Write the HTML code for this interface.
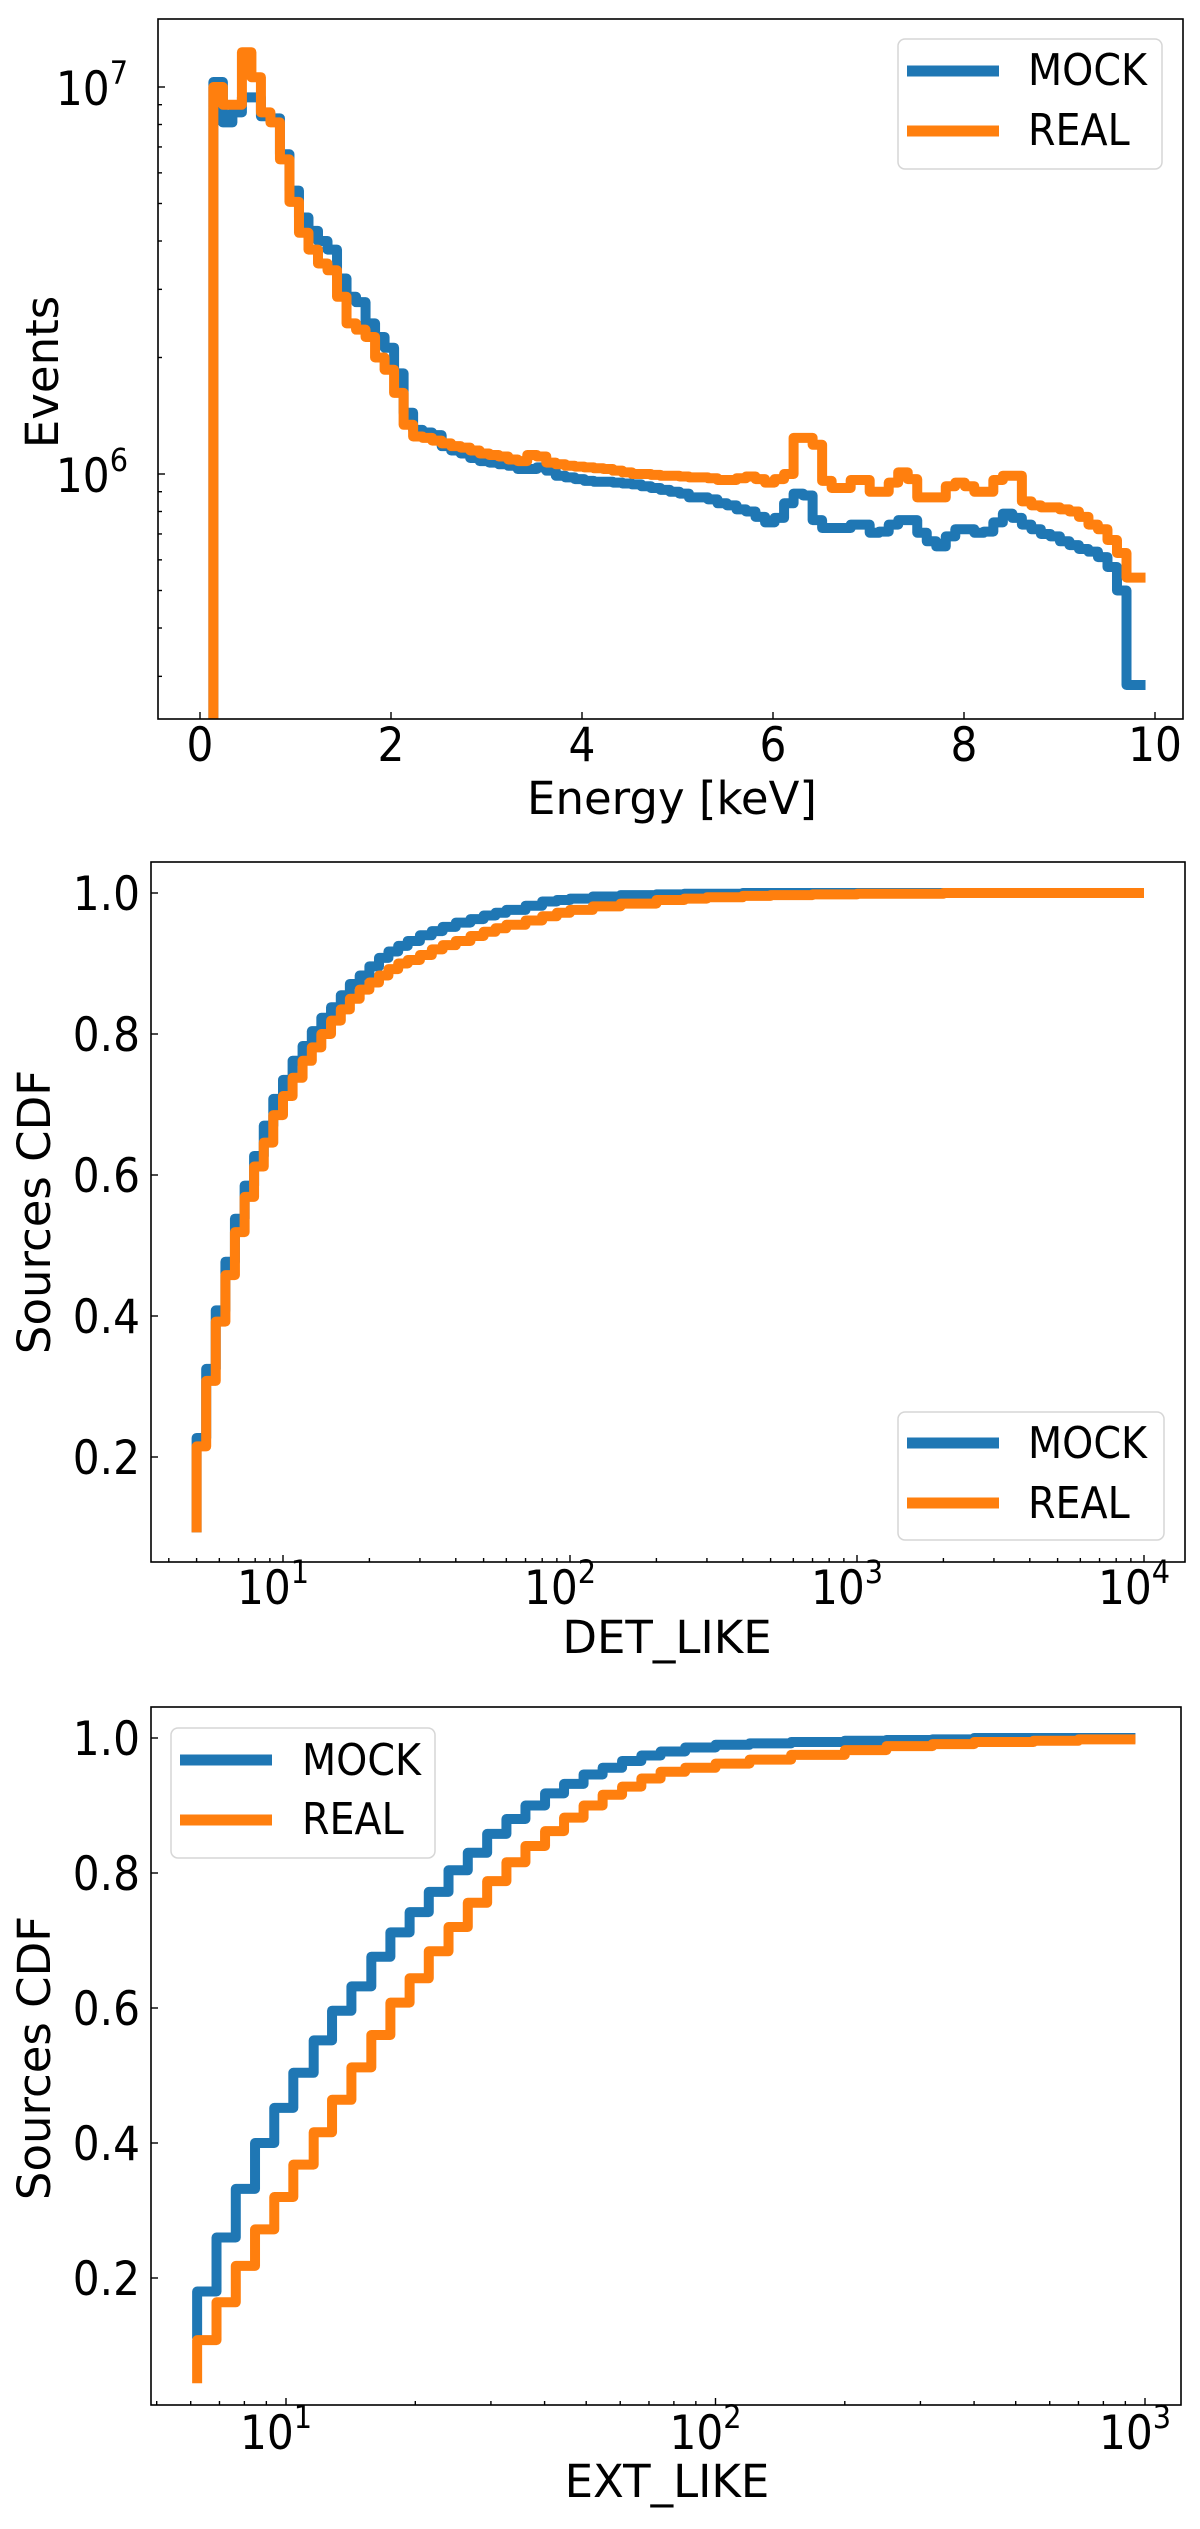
<!DOCTYPE html>
<html><head><meta charset="utf-8"><style>
html,body{margin:0;padding:0;background:#fff;}
svg{display:block;font-family:"DejaVu Sans","Liberation Sans",sans-serif;}
.tk{font-family:"DejaVu Sans Condensed","DejaVu Sans",sans-serif;font-size:47px;fill:#000;}
.sup{font-family:"DejaVu Sans Condensed","DejaVu Sans",sans-serif;font-size:32px;fill:#000;}
.lab{font-size:45px;fill:#000;}
.leg{font-family:"DejaVu Sans Condensed","DejaVu Sans",sans-serif;font-size:44px;fill:#000;}
</style></head><body>
<svg id="fig" width="1200" height="2529" viewBox="0 0 1200 2529" xmlns="http://www.w3.org/2000/svg"></svg>
<script>
// ---------- Panel 1 data: energy histogram (values in millions of events) ----------
const energyBinStart = 0.14;
const energyBinWidth = 0.0996;
const energyMock = [10.3,8.1,8.6,9.4,9.4,8.4,8.3,6.7,5.4,4.6,4.25,4.0,3.8,3.2,2.87,2.78,2.45,2.26,2.12,1.82,1.44,1.3,
 1.28,1.26,1.18,1.15,1.13,1.1,1.08,1.07,1.06,1.05,1.03,1.03,1.04,1.02,0.99,0.98,0.97,0.96,0.955,0.955,0.95,0.945,0.94,0.93,
 0.92,0.91,0.9,0.89,0.87,0.87,0.86,0.84,0.83,0.81,0.8,0.775,0.75,0.77,0.84,0.89,0.88,0.76,0.725,0.725,0.725,0.74,0.74,0.705,
 0.71,0.74,0.76,0.76,0.705,0.67,0.65,0.69,0.72,0.72,0.705,0.71,0.75,0.79,0.77,0.74,0.72,0.7,0.69,0.67,0.655,0.64,0.63,0.61,
 0.575,0.5,0.285,0.285];
const energyReal = [10.0,9.0,9.0,12.3,10.6,8.6,8.1,6.5,5.05,4.2,3.8,3.5,3.36,2.87,2.45,2.36,2.26,2.0,1.86,1.62,1.34,1.25,
 1.24,1.22,1.2,1.18,1.17,1.15,1.13,1.12,1.11,1.09,1.08,1.12,1.11,1.07,1.06,1.05,1.045,1.04,1.035,1.03,1.02,1.01,1.0,1.0,
 0.995,0.99,0.99,0.985,0.98,0.98,0.975,0.965,0.965,0.975,0.985,0.97,0.95,0.97,1.0,1.24,1.24,1.19,0.96,0.92,0.92,0.965,0.965,0.9,
 0.9,0.95,1.01,0.97,0.87,0.87,0.87,0.93,0.95,0.93,0.9,0.9,0.965,0.99,0.99,0.85,0.83,0.82,0.82,0.81,0.8,0.775,0.74,0.72,
 0.675,0.625,0.54,0.54];
const energyTicks = [0,2,4,6,8,10];

// ---------- Panel 2 data: DET_LIKE CDF ----------
const detEdges = [5.0,5.4,5.83,6.3,6.8,7.35,7.93,8.57,9.25,10.0,10.8,11.7,12.6,13.6,14.7,15.9,17.1,18.5,20.0,21.6,23.3,
 25.2,27.2,30,33,36,40,45,50,55,60,70,80,90,100,120,150,200,250,300,400,500,700,1000,2000,10000];
const detMock = [0.227,0.325,0.408,0.477,0.538,0.585,0.627,0.67,0.708,0.735,0.762,0.783,0.804,0.823,0.838,0.855,0.871,0.883,0.896,0.908,0.917,
 0.925,0.932,0.94,0.946,0.952,0.958,0.963,0.968,0.972,0.976,0.982,0.988,0.99,0.992,0.995,0.997,0.998,0.999,0.999,1.0,1.0,1.0,1.0,1.0];
const detReal = [0.215,0.308,0.392,0.458,0.519,0.569,0.612,0.646,0.685,0.712,0.738,0.762,0.781,0.8,0.819,0.835,0.85,0.863,0.873,0.883,0.892,
 0.9,0.905,0.912,0.92,0.926,0.932,0.939,0.945,0.95,0.955,0.961,0.967,0.972,0.976,0.981,0.985,0.99,0.992,0.994,0.996,0.997,0.998,0.999,1.0];
const detStart = [0.093,0.093];
const cdfTicks = [0.2,0.4,0.6,0.8,1.0];
const detDecades = [1,2,3,4];

// ---------- Panel 3 data: EXT_LIKE CDF ----------
const extEdges = [6.21,6.89,7.64,8.47,9.39,10.4,11.6,12.8,14.2,15.8,17.5,19.4,21.5,23.9,26.5,29.4,32.6,36.1,40.1,44.4,49.3,54.6,60.6,67.2,
 74.5,85,100,120,150,200,250,320,400,550,700,950];
const extMock = [0.18,0.26,0.332,0.4,0.452,0.504,0.552,0.596,0.632,0.676,0.712,0.742,0.772,0.804,0.83,0.858,0.88,0.9,0.918,0.932,0.946,0.956,0.966,0.974,
 0.98,0.986,0.99,0.992,0.994,0.996,0.997,0.998,1.0,1.0,1.0];
const extReal = [0.108,0.164,0.218,0.272,0.32,0.368,0.416,0.464,0.512,0.56,0.608,0.644,0.684,0.72,0.756,0.788,0.816,0.84,0.862,0.882,0.9,0.916,0.928,0.94,
 0.95,0.956,0.962,0.968,0.975,0.982,0.988,0.991,0.994,0.996,0.998];
const extStart = [0.11,0.044];
const extDecades = [1,2,3];

const BLUE="#1f77b4", ORANGE="#ff7f0e";
const NS="http://www.w3.org/2000/svg";
const svg=document.getElementById('fig');
function el(tag,attrs,parent){const e=document.createElementNS(NS,tag);for(const k in attrs)e.setAttribute(k,attrs[k]);(parent||svg).appendChild(e);return e;}

function clipFor(id,P){const d=el('defs',{});const c=el('clipPath',{id:id},d);el('rect',{x:P.l,y:P.t,width:P.r-P.l,height:P.b-P.t},c);}
function frame(P,name){const r=el('rect',{x:P.l,y:P.t,width:P.r-P.l,height:P.b-P.t,fill:'none',stroke:'#000','stroke-width':1.6});

}
function tick(x1,y1,x2,y2){el('line',{x1:x1,y1:y1,x2:x2,y2:y2,stroke:'#000','stroke-width':1.4});}
function powLabel(cx,base,exp,anchorRight,g){
  const t=el('text',{class:'tk',x:cx,y:base,'text-anchor':anchorRight?'end':'middle'},g);
  t.textContent='10';
  const s=el('tspan',{class:'sup',dy:-21},t);s.textContent=String(exp);
  return t;}
function stepPath(xs,ys){let d='M'+xs[0]+' '+ys[0];for(let i=1;i<xs.length;i++)d+=' L'+xs[i]+' '+ys[i];return d;}
function legend(box,ly,tx,tb,lx1,lx2){
  const g=el('g',{});
  
  
  el('rect',{x:box[0],y:box[1],width:box[2]-box[0],height:box[3]-box[1],rx:7,fill:'#fff','fill-opacity':0.85,stroke:'#d6d6d6','stroke-width':1.5},g);
  const names=['MOCK','REAL'],cols=[BLUE,ORANGE];
  for(let i=0;i<2;i++){
    const e=el('g',{},g);
    
    
    el('line',{x1:lx1,x2:lx2,y1:ly[i],y2:ly[i],stroke:cols[i],'stroke-width':11},e);
    const t=el('text',{class:'leg',x:tx,y:tb[i]},e);t.textContent=names[i];
  }}
function ylabel(text,x,cy,name){const t=el('text',{class:'lab',transform:`translate(${x},${cy}) rotate(-90)`,'text-anchor':'middle'});t.textContent=text;

}
function xlabel(text,cx,y,name){const t=el('text',{class:'lab',x:cx,y:y,'text-anchor':'middle'});t.textContent=text;

}

// ================= Panel 1 =================
(function(){
  const P={l:158,r:1183,t:19,b:719};
  const xs=e=>200+95.5*e;
  const ys=m=>474-387*Math.log10(m);
  clipFor('c1',P);
  const g=el('g',{'clip-path':'url(#c1)'});
  
  
  [[energyMock,BLUE,'mock-energy-histogram'],[energyReal,ORANGE,'real-energy-histogram']].forEach(([vals,col,nm])=>{
    const X=[],Y=[];
    X.push(xs(energyBinStart));Y.push(P.b+20);
    vals.forEach((v,i)=>{const a=xs(energyBinStart+i*energyBinWidth),b=xs(energyBinStart+(i+1)*energyBinWidth);X.push(a,b);Y.push(ys(v),ys(v));});
    const p=el('path',{d:stepPath(X,Y),fill:'none',stroke:col,'stroke-width':10,'stroke-linejoin':'round','stroke-linecap':'butt'},g);
    
    
  });
  frame(P,'energy-axes-frame');
  const xt=el('g',{});
  
  
  energyTicks.forEach(v=>{const x=xs(v);tick(x,P.b,x,P.b-7);const t=el('text',{class:'tk',x:x,y:761,'text-anchor':'middle'},xt);t.textContent=String(v);});
  const yt=el('g',{});
  
  
  [6,7].forEach(e=>{const y=ys(Math.pow(10,e-6));tick(P.l,y,P.l+7,y);powLabel(128,y+18,e,true,yt);});
  [0.3,0.4,0.5,0.6,0.7,0.8,0.9,2,3,4,5,6,7,8,9].forEach(m=>{const y=ys(m);if(y>P.t&&y<P.b)tick(P.l,y,P.l+4,y);});
  xlabel('Energy [keV]',672,814,'x-axis-title');
  ylabel('Events',58,372,'y-axis-title');
  legend([898,39,1162,169],[71,131],1028,[85,145],907,999);
})();

// ================= CDF panels =================
function cdfPanel(P,xs,ys,edges,mock,real,start,decades,tickBase,xlab,xlabY,ylabCy,clipId,prefix){
  clipFor(clipId,P);
  const g=el('g',{'clip-path':'url(#'+clipId+')'});
  
  
  [[mock,BLUE,start[0],'mock-cdf'],[real,ORANGE,start[1],'real-cdf']].forEach(([vals,col,s0,nm])=>{
    const X=[xs(edges[0])],Y=[ys(s0)];
    vals.forEach((v,i)=>{X.push(xs(edges[i]),xs(edges[i+1]));Y.push(ys(v),ys(v));});
    const p=el('path',{d:stepPath(X,Y),fill:'none',stroke:col,'stroke-width':10,'stroke-linejoin':'round','stroke-linecap':'butt'},g);
    
    
  });
  frame(P,prefix+'-axes-frame');
  const xt=el('g',{});
  
  
  decades.forEach(d=>{const x=xs(Math.pow(10,d));tick(x,P.b,x,P.b-7);powLabel(x-10,tickBase,d,false,xt);});
  for(let d=0;d<=decades[decades.length-1];d++){for(let m=2;m<=9;m++){const x=xs(m*Math.pow(10,d));if(x>P.l&&x<P.r)tick(x,P.b,x,P.b-4);}}
  const yt=el('g',{});
  
  
  cdfTicks.forEach(c=>{const y=ys(c);tick(P.l,y,P.l+7,y);const t=el('text',{class:'tk',x:140,y:y+17,'text-anchor':'end'},yt);t.textContent=c.toFixed(1);});
  xlabel(xlab,667,xlabY,prefix+'-x-axis-title');
  ylabel('Sources CDF',50,ylabCy,prefix+'-y-axis-title');
}

(function(){
  const P={l:151,r:1185,t:862,b:1562};
  const xs=v=>283+287*(Math.log10(v)-1);
  const ys=c=>893+(1-c)*705;
  cdfPanel(P,xs,ys,detEdges,detMock,detReal,detStart,detDecades,1604,'DET_LIKE',1653,1212,'c2','det-like');
  legend([898,1412,1164,1540],[1443,1503],1028,[1458,1518],907,999);
})();

(function(){
  const P={l:151,r:1181,t:1707,b:2405};
  const xs=v=>286+429.5*(Math.log10(v)-1);
  const ys=c=>1738+(1-c)*675;
  cdfPanel(P,xs,ys,extEdges,extMock,extReal,extStart,extDecades,2449,'EXT_LIKE',2497,2058,'c3','ext-like');
  legend([171,1728,435,1858],[1760,1820],302,[1775,1834],180,272);
})();
</script>
</body></html>
